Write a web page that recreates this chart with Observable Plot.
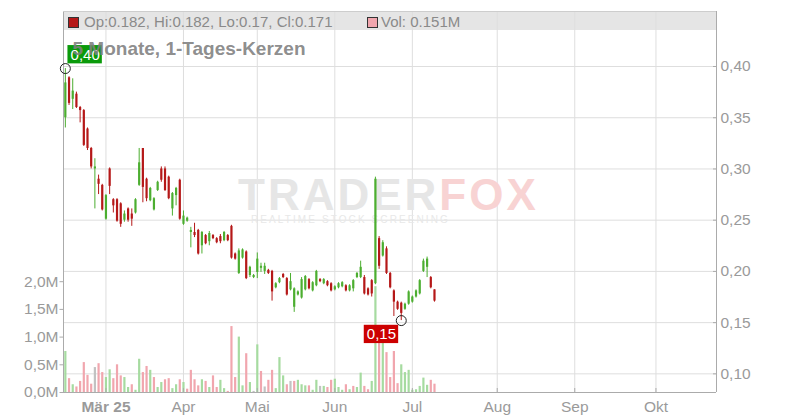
<!DOCTYPE html>
<html><head><meta charset="utf-8">
<script src="https://cdn.jsdelivr.net/npm/d3@7"></script>
<script src="https://cdn.jsdelivr.net/npm/@observablehq/plot@0.6"></script>
<style>
html,body{margin:0;padding:0;background:#fff;}
#chart{position:relative;width:800px;height:420px;overflow:hidden;font-family:"Liberation Sans",Arial,sans-serif;}
#chart .layer{position:absolute;left:0;top:0;width:800px;height:420px;}
#chart .abs{position:absolute;white-space:nowrap;line-height:1;}
</style></head><body>
<div id="chart"></div>
<script>
// ---- data ----
const opens  = [.350,.389,.368,.373,.360,.357,.339,.320,.300,.290,.284,.251,.300,.270,.270,.266,.250,.261,.256,.257,
                .284,.320,.290,.269,.260,.279,.300,.300,.292,.261,.274,.289,.246,.249,.238,.238,.240,.225,.235,.229,
                .235,.232,.234,.230,.235,.244,.217,.198,.213,.219,.196,.194,.199,.203,.200,.201,.200,.184,.189,.197,
                .193,.182,.165,.177,.174,.182,.192,.181,.186,.192,.188,.190,.188,.182,.184,.185,.186,.181,.183,.194,
                .194,.194,.183,.191,.188,.232,.215,.222,.198,.181,.170,.169,.163,.168,.170,.175,.178,.200,.204,.194,.182];
const highs  = [.398,.390,.388,.375,.361,.358,.340,.321,.310,.294,.285,.275,.301,.271,.271,.267,.259,.262,.261,.271,
                .320,.320,.291,.282,.272,.288,.302,.302,.293,.277,.282,.290,.259,.253,.243,.247,.241,.239,.236,.239,
                .236,.233,.236,.239,.236,.245,.218,.222,.222,.220,.205,.197,.218,.208,.208,.202,.201,.189,.194,.198,
                .194,.198,.184,.181,.194,.196,.193,.190,.201,.193,.193,.191,.189,.186,.189,.190,.187,.187,.192,.199,
                .210,.196,.184,.192,.292,.234,.230,.224,.199,.182,.171,.170,.169,.181,.176,.182,.192,.212,.214,.195,.182];
const lows   = [.340,.362,.358,.359,.345,.322,.318,.300,.261,.275,.259,.250,.275,.257,.248,.243,.248,.248,.244,.256,
                .283,.267,.268,.268,.259,.278,.287,.278,.270,.254,.264,.250,.245,.248,.223,.233,.216,.217,.226,.225,
                .231,.227,.227,.229,.229,.212,.211,.197,.212,.192,.194,.193,.193,.199,.197,.197,.171,.183,.188,.193,
                .176,.181,.160,.176,.173,.181,.182,.180,.185,.189,.187,.185,.180,.181,.183,.184,.180,.180,.180,.193,
                .193,.177,.176,.175,.187,.202,.214,.197,.183,.156,.162,.152,.162,.167,.169,.174,.177,.199,.194,.183,.170];
const closes = [.384,.364,.376,.360,.357,.323,.320,.302,.302,.285,.260,.274,.283,.264,.249,.246,.256,.250,.251,.270,
                .306,.282,.271,.281,.271,.287,.289,.279,.271,.276,.281,.251,.254,.252,.240,.235,.217,.238,.227,.237,
                .232,.228,.229,.238,.230,.213,.212,.220,.221,.193,.204,.196,.212,.205,.205,.198,.180,.188,.193,.194,
                .177,.190,.183,.180,.192,.195,.183,.189,.200,.190,.192,.186,.181,.185,.188,.189,.181,.186,.191,.198,
                .204,.178,.177,.178,.290,.205,.228,.198,.184,.170,.163,.159,.168,.180,.175,.181,.191,.210,.212,.184,.171];
// volume in millions, and direction of the volume bar (u = up, d = down, n = unchanged)
const volumes = [.74,.25,.14,.10,.20,.54,.31,.15,.45,.52, .36,.27,.41,.25,.50,.30,.27,.09,.14,.04,
                 .60,.36,.47,.40,.27,.09,.18,.23,.25,.07, .14,.23,.18,.06,.40,.23,.12,.23,.20,.09,
                 .30,.09,.22,.07,.02,1.19,.27,1.00,.12,.70, .18,.02,.86,.38,.10,.22,.40,.07,.63,.30,
                 .14,.20,.20,.22,.14,.12,.12,.04,.22,.11, .11,.09,.22,.24,.09,.04,.14,.05,.11,.09,
                 .35,.11,.05,.20,1.91,1.20,.95,.72,.27,.74, .16,.50,.36,.40,.04,.05,.11,.26,.13,.22,.15];
const volTrend = ["u","d","u","d","d","d","d","d","n","d", "d","u","u","d","d","d","u","u","d","u",
                  "u","d","d","u","d","u","u","d","d","u", "u","d","u","d","d","d","d","u","d","u",
                  "d","d","u","u","d","d","d","u","u","d", "u","n","u","d","n","d","d","u","u","u",
                  "d","n","d","u","u","u","d","u","u","n", "u","d","d","u","u","u","d","u","d","u",
                  "u","d","d","u","u","d","u","d","d","d", "d","u","u","u","u","u","u","u","u","d","d"];
// month ticks: trading-day index of the first session of each month
const monthTickIdx    = [11, 32, 52, 73, 94, 117, 138, 160];
const monthTickLabels = ["Mär 25", "Apr", "Mai", "Jun", "Jul", "Aug", "Sep", "Okt"];
const priceTicks = [0.10, 0.15, 0.20, 0.25, 0.30, 0.35, 0.40];
const volTicks   = [0, 0.5, 1.0, 1.5, 2.0];
const extremes = [
  {i: 0,  price: 0.398, label: "0,40", kind: "high"},
  {i: 91, price: 0.152, label: "0,15", kind: "low"}
];
const headerOHLC = "Op:0.182, Hi:0.182, Lo:0.17, Cl:0.171";
const headerVol  = "Vol: 0.151M";
const subtitle   = "5 Monate, 1-Tages-Kerzen";

// ---- build ----
const C = {up: "#4cae30", down: "#b51818", vUp: "#a6dba0", vDown: "#f1a6ae", vFlat: "#c2c2c2",
           grid: "#dedede", axis: "#ababab", text: "#9a9a9a"};
const candles = opens.map((o, i) => ({i, open: o, high: highs[i], low: lows[i], close: closes[i],
                                      dir: closes[i] >= o ? "up" : "down"}));
const vols = volumes.map((v, i) => ({i, vol: v, trend: volTrend[i]}));
const labelOf = new Map(monthTickIdx.map((d, k) => [d, monthTickLabels[k]]));
const fmtPrice = d => d.toFixed(2).replace(".", ",");
const fmtVol = d => d.toFixed(1).replace(".", ",") + "M";

const xDomain = [-0.5, 176.4];
const priceDomain = [0.0818, 0.4537];
const volDomain = [0, 6.877];
const base = {width: 800, height: 420, marginTop: 11, marginBottom: 28, marginLeft: 63, marginRight: 84,
  style: {background: "transparent", fontFamily: "'Liberation Sans', Arial, sans-serif", overflow: "visible"}};
const xs = {domain: xDomain, axis: null, label: null};

const chart = document.getElementById("chart");
function addLayer(node) { const d = document.createElement("div"); d.className = "layer"; d.appendChild(node); chart.appendChild(d); }
function addText(txt, css) { const d = document.createElement("div"); d.className = "abs"; d.textContent = txt; Object.assign(d.style, css); chart.appendChild(d); return d; }
function addBox(css) { const d = document.createElement("div"); d.style.position = "absolute"; Object.assign(d.style, css); chart.appendChild(d); return d; }

// header band
addBox({left: "63px", top: "11px", width: "653px", height: "18.5px", background: "#e5e5e5"});

// layer 1: grid
addLayer(Plot.plot({...base, x: xs, y: {domain: priceDomain, axis: null, label: null},
  marks: [
    Plot.gridY(priceTicks, {stroke: C.grid, strokeOpacity: 1}),
    Plot.gridX(monthTickIdx, {stroke: C.grid, strokeOpacity: 1})
  ]}));

// header legend texts
addBox({left: "68px", top: "16.5px", width: "9px", height: "9px", background: C.down, border: "1px solid #333"});
addText(headerOHLC, {left: "84px", top: "13.8px", fontSize: "15px", color: "#8a8a8a"});
addBox({left: "367px", top: "16.5px", width: "9px", height: "9px", background: C.vDown, border: "1px solid #333"});
addText(headerVol, {left: "381px", top: "13.8px", fontSize: "15px", color: "#8a8a8a"});

// watermark
const wm = addText("", {left: "238px", top: "176.6px", fontSize: "44px", fontWeight: "bold", letterSpacing: "3px", lineHeight: "0.8"});
const wm1 = document.createElement("span"); wm1.textContent = "TRADER"; wm1.style.color = "#e6e6e6";
const wm2 = document.createElement("span"); wm2.textContent = "FOX"; wm2.style.color = "#f8d3d3";
wm.appendChild(wm1); wm.appendChild(wm2);
addText("REALTIME STOCK SCREENING", {left: "251px", top: "214.5px", fontSize: "10px", letterSpacing: "2.1px", color: "#e8e8e8"});

// layer 2: volume
addLayer(Plot.plot({...base, x: xs, y: {domain: volDomain, axis: null, label: null},
  color: {domain: ["u", "d", "n"], range: [C.vUp, C.vDown, C.vFlat]},
  marks: [
    Plot.ruleX(vols, {x: "i", y1: 0, y2: "vol", stroke: "trend", strokeWidth: 2.2}),
    Plot.axisY(volTicks, {anchor: "left", tickSize: 3.5, tickPadding: 1.5, tickFormat: fmtVol,
      fontSize: 15.5, fill: C.text, stroke: C.axis, label: null})
  ]}));

// label boxes for the extremes
const BOX_W = 34.4, BOX_H = 18.3, GAP = 2.6, VGAP = 4.7;
function extremeBoxes(items) {
  return (index, scales) => {
    const ns = "http://www.w3.org/2000/svg";
    const g = document.createElementNS(ns, "g");
    for (const d of items) {
      const px = scales.x(d.i), py = scales.y(d.price);
      const r = document.createElementNS(ns, "rect");
      const x0 = d.kind === "high" ? px + GAP : px - GAP - BOX_W;
      const y0 = d.kind === "high" ? py - VGAP - BOX_H : py + VGAP;
      r.setAttribute("x", x0); r.setAttribute("y", y0);
      r.setAttribute("width", BOX_W); r.setAttribute("height", BOX_H);
      r.setAttribute("fill", d.kind === "high" ? "#0a9a0a" : "#cc0000");
      g.appendChild(r);
    }
    return g;
  };
}
const DX = GAP + BOX_W / 2, DY = VGAP + BOX_H / 2;

// layer 3: candles and axes
addLayer(Plot.plot({...base, x: xs, y: {domain: priceDomain, axis: null, label: null},
  color: {domain: ["up", "down"], range: [C.up, C.down]},
  marks: [
    Plot.ruleX(candles, {x: "i", y1: "low", y2: "high", stroke: "dir", strokeWidth: 1}),
    Plot.ruleX(candles, {x: "i", y1: "open", y2: "close", stroke: "dir", strokeWidth: 2.2}),
    Plot.ruleX(xDomain, {stroke: C.axis}),
    Plot.ruleY([priceDomain[0]], {stroke: C.axis}),
    Plot.ruleY([priceDomain[1]], {stroke: "#cdcdcd"}),
    Plot.axisY(priceTicks, {anchor: "right", tickSize: -4, tickPadding: 8, tickFormat: fmtPrice,
      fontSize: 15.5, fill: C.text, stroke: C.axis, label: null}),
    Plot.axisX(monthTickIdx.slice(1), {anchor: "bottom", tickSize: -4, tickPadding: 12.7,
      tickFormat: d => labelOf.get(d), fontSize: 15.5, fill: C.text, stroke: C.axis, label: null}),
    Plot.axisX(monthTickIdx.slice(0, 1), {anchor: "bottom", tickSize: -4, tickPadding: 12.7,
      tickFormat: d => labelOf.get(d), fontSize: 15.5, fontWeight: "bold", fill: C.text, stroke: C.axis, label: null}),
    Plot.dot(extremes, {x: "i", y: "price", r: 5, stroke: "#222", fill: "none", strokeWidth: 1}),
    extremeBoxes(extremes),
    Plot.text(extremes, {filter: d => d.kind === "high", x: "i", y: "price", text: "label",
      fill: "white", fontSize: 15, dx: DX, dy: -DY}),
    Plot.text(extremes, {filter: d => d.kind === "low", x: "i", y: "price", text: "label",
      fill: "white", fontSize: 15, dx: -DX, dy: DY})
  ]}));

// subtitle drawn on top
addText(subtitle, {left: "72.5px", top: "39px", fontSize: "19px", fontWeight: "bold", color: "rgba(128,128,128,0.9)"});
</script>
</body></html>
